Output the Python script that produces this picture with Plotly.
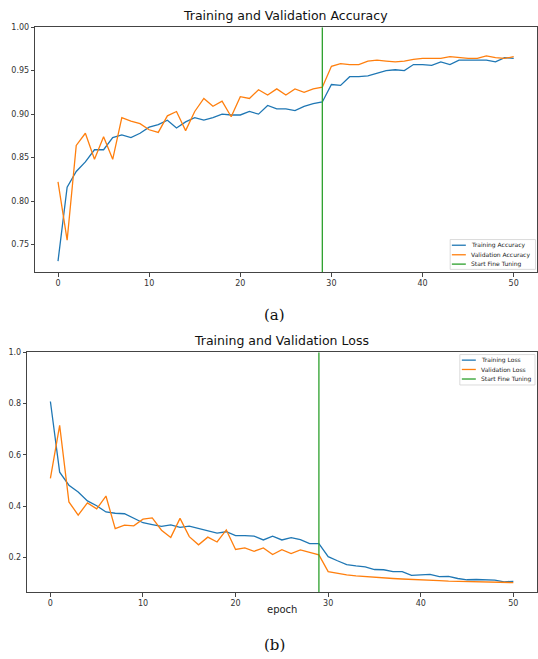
import plotly.graph_objects as go

epochs = list(range(51))

train_acc = [0.731, 0.816, 0.834, 0.845, 0.859, 0.859, 0.873, 0.876, 0.873, 0.878,
             0.885, 0.888, 0.893, 0.884, 0.891, 0.896, 0.893, 0.896, 0.900, 0.899,
             0.899, 0.903, 0.900, 0.910, 0.906, 0.906, 0.904, 0.909, 0.912, 0.914,
             0.934, 0.933, 0.943, 0.943, 0.944, 0.947, 0.950, 0.951, 0.950, 0.957,
             0.957, 0.956, 0.960, 0.957, 0.962, 0.962, 0.962, 0.962, 0.960, 0.965,
             0.964]
val_acc = [0.822, 0.755, 0.864, 0.878, 0.848, 0.874, 0.848, 0.896, 0.892, 0.889,
           0.882, 0.879, 0.898, 0.903, 0.881, 0.903, 0.918, 0.909, 0.915, 0.897,
           0.920, 0.918, 0.928, 0.922, 0.929, 0.922, 0.929, 0.925, 0.929, 0.931,
           0.955, 0.958, 0.957, 0.957, 0.961, 0.962, 0.961, 0.960, 0.961, 0.963,
           0.964, 0.964, 0.964, 0.966, 0.965, 0.964, 0.964, 0.967, 0.965, 0.964,
           0.966]
train_loss = [0.808, 0.533, 0.482, 0.456, 0.421, 0.402, 0.378, 0.373, 0.371, 0.353,
              0.336, 0.329, 0.322, 0.328, 0.318, 0.323, 0.313, 0.305, 0.296, 0.301,
              0.286, 0.286, 0.284, 0.269, 0.284, 0.269, 0.278, 0.270, 0.255, 0.255,
              0.204, 0.188, 0.173, 0.168, 0.164, 0.154, 0.153, 0.146, 0.146, 0.131,
              0.133, 0.135, 0.126, 0.127, 0.119, 0.114, 0.115, 0.115, 0.113, 0.106,
              0.108]
val_loss = [0.509, 0.715, 0.417, 0.366, 0.413, 0.390, 0.440, 0.313, 0.327, 0.324,
            0.350, 0.355, 0.307, 0.279, 0.353, 0.282, 0.250, 0.280, 0.261, 0.308,
            0.232, 0.238, 0.225, 0.238, 0.212, 0.231, 0.216, 0.230, 0.221, 0.211,
            0.146, 0.139, 0.133, 0.129, 0.126, 0.124, 0.122, 0.119, 0.117, 0.116,
            0.114, 0.112, 0.111, 0.109, 0.108, 0.107, 0.106, 0.105, 0.104, 0.103,
            0.103]

fine_tune_epoch = 29
acc_range = [0.718, 1.0]
loss_range = [0.066, 1.0]
x_range = [-2.5, 52.5]
x_ticks = [0, 10, 20, 30, 40, 50]
acc_ticks = [0.75, 0.80, 0.85, 0.90, 0.95, 1.00]
loss_ticks = [0.2, 0.4, 0.6, 0.8, 1.0]
acc_names = ["Training Accuracy", "Validation Accuracy", "Start Fine Tuning"]
loss_names = ["Training Loss", "Validation Loss", "Start Fine Tuning"]
titles = ["Training and Validation Accuracy", "Training and Validation Loss"]
captions = ["(a)", "(b)"]
xlabel = "epoch"

BLUE, ORANGE, GREEN = "#1f77b4", "#ff7f0e", "#2ca02c"
COLORS = [BLUE, ORANGE, GREEN]
LW = 1.3
W, H = 538, 659

fig = go.Figure()
for ys, name, col in [(train_acc, acc_names[0], BLUE), (val_acc, acc_names[1], ORANGE)]:
    fig.add_trace(go.Scatter(x=epochs, y=ys, mode="lines", name=name,
                             line=dict(color=col, width=LW), xaxis="x", yaxis="y"))
fig.add_trace(go.Scatter(x=[fine_tune_epoch, fine_tune_epoch], y=acc_range, mode="lines",
                         name=acc_names[2], line=dict(color=GREEN, width=LW), xaxis="x", yaxis="y"))
for ys, name, col in [(train_loss, loss_names[0], BLUE), (val_loss, loss_names[1], ORANGE)]:
    fig.add_trace(go.Scatter(x=epochs, y=ys, mode="lines", name=name,
                             line=dict(color=col, width=LW), xaxis="x2", yaxis="y2"))
fig.add_trace(go.Scatter(x=[fine_tune_epoch, fine_tune_epoch], y=loss_range, mode="lines",
                         name=loss_names[2], line=dict(color=GREEN, width=LW), xaxis="x2", yaxis="y2"))

tickfont = dict(family="DejaVu Sans", size=8, color="#333")
axis_common = dict(showgrid=False, zeroline=False, showline=True, mirror=True,
                   linecolor="#444", linewidth=1, ticks="outside", ticklen=3.5,
                   tickcolor="#444", tickwidth=1, tickfont=tickfont)


def py(v):
    return 1 - v / H


def px(v):
    return v / W


shapes = []
annotations = []


def add_legend(names, box, rows, line_x, text_x):
    x0, y0, x1, y1 = box
    shapes.append(dict(type="rect", xref="paper", yref="paper",
                       x0=px(x0), x1=px(x1), y0=py(y1), y1=py(y0),
                       line=dict(color="#d0d0d0", width=0.8), fillcolor="rgba(255,255,255,0.85)",
                       layer="above"))
    for name, col, ry in zip(names, COLORS, rows):
        shapes.append(dict(type="line", xref="paper", yref="paper",
                           x0=px(line_x[0]), x1=px(line_x[1]), y0=py(ry), y1=py(ry),
                           line=dict(color=col, width=LW), layer="above"))
        annotations.append(dict(text=name, x=px(text_x), y=py(ry), xref="paper", yref="paper",
                                xanchor="left", yanchor="middle", showarrow=False,
                                font=dict(family="DejaVu Sans", size=6, color="#222")))


add_legend(acc_names, (451, 237, 536.5, 267), [242.7, 252.3, 261.7], (452.7, 466.7), 470)
add_legend(loss_names, (460.7, 352.7, 536, 383.3), [358.3, 367.7, 377.3], (462.7, 476.7), 479.5)

annotations += [
    dict(text=titles[0], x=px((35.3 + 537.5) / 2), y=py(21.5),
         xref="paper", yref="paper", xanchor="center", yanchor="bottom", showarrow=False,
         font=dict(family="DejaVu Sans", size=12.5, color="#111")),
    dict(text=titles[1], x=px((27.3 + 537.5) / 2), y=py(348.5),
         xref="paper", yref="paper", xanchor="center", yanchor="bottom", showarrow=False,
         font=dict(family="DejaVu Sans", size=12.5, color="#111")),
    dict(text=xlabel, x=px((27.3 + 537.5) / 2), y=py(609), xref="paper", yref="paper",
         xanchor="center", yanchor="middle", showarrow=False,
         font=dict(family="DejaVu Sans", size=10, color="#222")),
    dict(text=captions[0], x=px(275), y=py(313), xref="paper", yref="paper",
         xanchor="center", yanchor="middle", showarrow=False,
         font=dict(family="DejaVu Serif", size=15, color="#111")),
    dict(text=captions[1], x=px(275), y=py(645), xref="paper", yref="paper",
         xanchor="center", yanchor="middle", showarrow=False,
         font=dict(family="DejaVu Serif", size=15, color="#111")),
]

fig.update_layout(
    width=W, height=H,
    margin=dict(l=0, r=0, t=0, b=0),
    paper_bgcolor="white", plot_bgcolor="white",
    showlegend=False,
    hovermode=False,
    font=dict(family="DejaVu Sans", color="#222"),
    xaxis=dict(domain=[px(35.3), px(537.5)], range=x_range, tickvals=x_ticks,
               anchor="y", **axis_common),
    yaxis=dict(domain=[py(270), py(23.3)], range=acc_range, tickvals=acc_ticks,
               tickformat=".2f", anchor="x", **axis_common),
    xaxis2=dict(domain=[px(27.3), px(537.5)], range=x_range, tickvals=x_ticks,
                anchor="y2", **axis_common),
    yaxis2=dict(domain=[py(591.7), py(350.3)], range=loss_range, tickvals=loss_ticks,
                tickformat=".1f", anchor="x2", **axis_common),
    shapes=shapes,
    annotations=annotations,
)

fig.write_html("out.html", config={"displayModeBar": False, "staticPlot": True},
               post_script="document.body.style.margin='0';document.body.style.overflow='hidden';")
